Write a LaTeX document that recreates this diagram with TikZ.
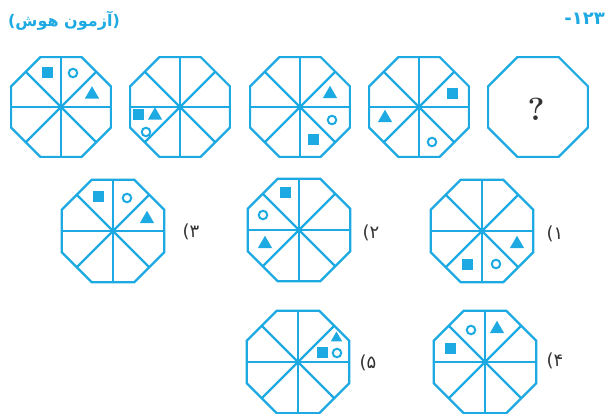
\documentclass[tikz,border=0pt]{standalone}
\usepackage{fontspec}
\usepackage{tikz}
\usetikzlibrary{
  shapes.geometric,
  positioning,
}
\TeXXeTstate=1
\newfontfamily\fafont[Script=Arabic]{DejaVu Sans}
\newfontfamily\lafont{DejaVu Sans}
\definecolor{qblue}{HTML}{1DA9E1}
\definecolor{qgray}{HTML}{333333}
\tikzset{
  octline/.style={qblue, line width=2.2pt},
  octa/.style={regular polygon, regular polygon sides=8, draw=qblue,
    line width=2.2pt, inner sep=0pt, outer sep=0pt, minimum size=#1},
  sqmark/.style={rectangle, fill=qblue, inner sep=0pt, minimum size=11pt},
  ringmark/.style={circle, draw=qblue, line width=2pt, inner sep=0pt, minimum size=8.5pt},
  trimark/.style={regular polygon, regular polygon sides=3, fill=qblue,
    inner sep=0pt, minimum size=#1},
  trimark/.default=16.5pt,
  optlabel/.style={text=qgray, inner sep=0pt, font=\fontsize{18}{18}\selectfont},
}
\newcommand{\spokes}[1]{\foreach \k in {1,...,8} \draw[octline] (#1.center) -- (#1.side \k);}
\newcommand{\optnum}[1]{{\lafont(}{\fafont #1}}

\begin{document}
\begin{tikzpicture}[x=1pt, y=-1pt]
  \useasboundingbox (0,0) rectangle (608,414);

  \node[text=qblue, font=\bfseries\fontsize{16}{16}\selectfont] (src) at (64,21)
    {{\lafont(}{\fafont\beginR آزمون هوش\endR}{\lafont)}};
  \node[text=qblue, anchor=east, inner sep=0pt, font=\bfseries\fontsize{18}{18}\selectfont] (qnum) at (605,19)
    {{\lafont -}{\fafont ۱۲۳}};

  \node[octa=108pt] (q1) at (61,107) {};
  \spokes{q1}
  \node[sqmark] (q1sq) at ([shift={(-14,-34.5)}]q1.center) {};
  \node[ringmark] (q1ring) at ([shift={(12,-34)}]q1.center) {};
  \node[trimark] (q1tri) at ([shift={(31,-12.5)}]q1.center) {};

  \node[octa=108pt] (q2) at (180,107) {};
  \spokes{q2}
  \node[sqmark] (q2sq) at ([shift={(-42,7.5)}]q2.center) {};
  \node[trimark] (q2tri) at ([shift={(-25,8.5)}]q2.center) {};
  \node[ringmark] (q2ring) at ([shift={(-34,25)}]q2.center) {};

  \node[octa=108pt] (q3) at (300,107) {};
  \spokes{q3}
  \node[trimark] (q3tri) at ([shift={(30,-13)}]q3.center) {};
  \node[ringmark] (q3ring) at ([shift={(32,13)}]q3.center) {};
  \node[sqmark] (q3sq) at ([shift={(13,33)}]q3.center) {};

  \node[octa=108pt] (q4) at (419,107) {};
  \spokes{q4}
  \node[sqmark] (q4sq) at ([shift={(33,-13)}]q4.center) {};
  \node[trimark] (q4tri) at ([shift={(-34,11)}]q4.center) {};
  \node[ringmark] (q4ring) at ([shift={(13,35)}]q4.center) {};

  \node[octa=108pt] (q5) at (538,107) {};
  \node[text=qgray, font=\fontsize{32}{32}\selectfont\bfseries] (q5mark) at (536,109) {?};

  \node[octa=111pt] (o3) at (113,231) {};
  \spokes{o3}
  \node[sqmark] (o3sq) at ([shift={(-15,-34)}]o3.center) {};
  \node[ringmark] (o3ring) at ([shift={(14,-33)}]o3.center) {};
  \node[trimark] (o3tri) at ([shift={(34,-12)}]o3.center) {};
  \node[optlabel] (o3lab) at (191,232) {\optnum{۳}};

  \node[octa=111pt] (o2) at (299,230) {};
  \spokes{o2}
  \node[sqmark] (o2sq) at ([shift={(-14,-37)}]o2.center) {};
  \node[ringmark] (o2ring) at ([shift={(-36,-15)}]o2.center) {};
  \node[trimark] (o2tri) at ([shift={(-34,14)}]o2.center) {};
  \node[optlabel] (o2lab) at (371,233) {\optnum{۲}};

  \node[octa=111pt] (o1) at (482,231) {};
  \spokes{o1}
  \node[trimark] (o1tri) at ([shift={(35,13)}]o1.center) {};
  \node[ringmark] (o1ring) at ([shift={(14,33)}]o1.center) {};
  \node[sqmark] (o1sq) at ([shift={(-15,34)}]o1.center) {};
  \node[optlabel] (o1lab) at (555,234) {\optnum{۱}};

  \node[octa=111pt] (o5) at (298,362) {};
  \spokes{o5}
  \node[trimark=13pt] (o5tri) at ([shift={(38.5,-24)}]o5.center) {};
  \node[sqmark] (o5sq) at ([shift={(24,-10)}]o5.center) {};
  \node[ringmark] (o5ring) at ([shift={(39,-9)}]o5.center) {};
  \node[optlabel] (o5lab) at (368,363) {\optnum{۵}};

  \node[octa=111pt] (o4) at (485,362) {};
  \spokes{o4}
  \node[ringmark] (o4ring) at ([shift={(-14,-32)}]o4.center) {};
  \node[trimark] (o4tri) at ([shift={(12,-33)}]o4.center) {};
  \node[sqmark] (o4sq) at ([shift={(-35,-14)}]o4.center) {};
  \node[optlabel] (o4lab) at (555,361) {\optnum{۴}};
\end{tikzpicture}
\end{document}
